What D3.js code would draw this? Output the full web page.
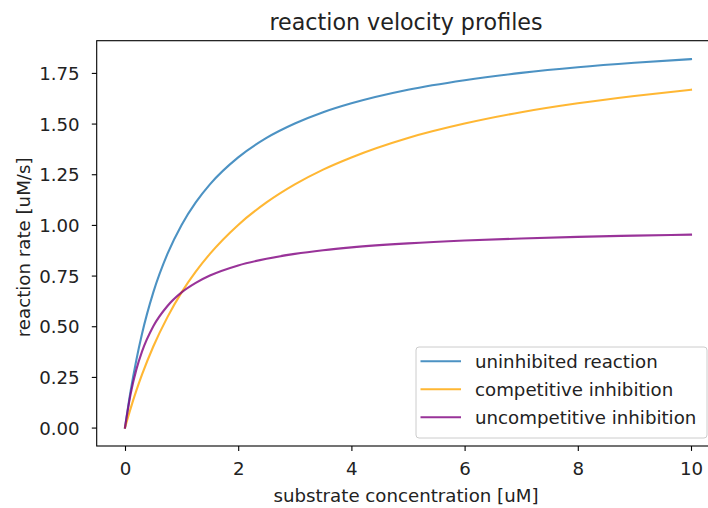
<!DOCTYPE html>
<html>
<head>
<meta charset="utf-8">
<script src="https://cdn.jsdelivr.net/npm/d3@7"></script>
<style>
  html, body { margin: 0; padding: 0; background: #fff; overflow: hidden; }
  svg { display: block; font-family: "DejaVu Sans", sans-serif; }
</style>
</head>
<body>
<svg id="chart" width="708" height="508"></svg>
<script>
// Substrate concentrations [uM] sampled along each velocity curve
const substrate = [0, 0.1, 0.2, 0.3, 0.5, 0.75, 1, 1.25, 1.5, 2, 2.5, 3, 3.5, 4, 5, 6, 7, 8, 9, 10];

// Reaction rates [uM/s] for each case
const uninhibited   = [0, 0.182, 0.333, 0.462, 0.667, 0.857, 1.000, 1.111, 1.200, 1.333, 1.429, 1.500, 1.556, 1.600, 1.667, 1.714, 1.750, 1.778, 1.800, 1.818];
const competitive   = [0, 0.095, 0.182, 0.261, 0.400, 0.545, 0.667, 0.769, 0.857, 1.000, 1.111, 1.200, 1.273, 1.333, 1.429, 1.500, 1.556, 1.600, 1.636, 1.667];
const uncompetitive = [0, 0.167, 0.286, 0.375, 0.500, 0.600, 0.667, 0.714, 0.750, 0.800, 0.833, 0.857, 0.875, 0.889, 0.909, 0.923, 0.933, 0.941, 0.947, 0.952];

const seriesNames  = ["uninhibited reaction", "competitive inhibition", "uncompetitive inhibition"];
const seriesColors = ["#1f77b4", "orange", "purple"];
const xTicks = [0, 2, 4, 6, 8, 10];
const yTicks = [0, 0.25, 0.5, 0.75, 1.0, 1.25, 1.5, 1.75];

const svg = d3.select("#chart");
const plot = { left: 96.7, right: 719.3, top: 40.7, bottom: 446 };
const baseFont = 18.2, titleFont = 22.2;

const allY = uninhibited.concat(competitive, uncompetitive);
const yMin = d3.min(allY), yMax = d3.max(allY);
const yPad = (yMax - yMin) * 0.05;
const xMin = d3.min(substrate), xMax = d3.max(substrate);
const xPad = (xMax - xMin) * 0.05;

const x = d3.scaleLinear().domain([xMin - xPad, xMax + xPad]).range([plot.left, plot.right]);
const y = d3.scaleLinear().domain([yMin - yPad, yMax + yPad]).range([plot.bottom, plot.top]);

const series = [uninhibited, competitive, uncompetitive].map((vals, i) => ({
  name: seriesNames[i],
  color: seriesColors[i],
  points: substrate.map((s, j) => [s, vals[j]])
}));

const line = d3.line()
  .x(d => x(d[0]))
  .y(d => y(d[1]))
  .curve(d3.curveMonotoneX);

// Curves
svg.append("g")
  .selectAll("path")
  .data(series)
  .join("path")
  .attr("d", d => line(d.points))
  .attr("fill", "none")
  .attr("stroke", d => d.color)
  .attr("stroke-opacity", 0.8)
  .attr("stroke-width", 2.1)
  .attr("stroke-linecap", "square");

// Axes
const xAxis = d3.axisBottom(x).tickValues(xTicks).tickFormat(d3.format("d")).tickSize(4.9);
const yAxis = d3.axisLeft(y).tickValues(yTicks).tickFormat(d3.format(".2f")).tickSize(4.9);

const gx = svg.append("g").attr("transform", `translate(0,${plot.bottom})`).call(xAxis);
const gy = svg.append("g").attr("transform", `translate(${plot.left},0)`).call(yAxis);
[gx, gy].forEach(g => {
  g.select(".domain").remove();
  g.selectAll(".tick line").attr("stroke", "#000").attr("stroke-width", 1.1);
  g.selectAll(".tick text").attr("fill", "#222").attr("font-size", baseFont)
    .attr("font-family", "DejaVu Sans, sans-serif");
});
gx.selectAll(".tick text").attr("y", 28.5).attr("dy", null);
gy.selectAll(".tick text").attr("x", -17).attr("dy", "0.36em");

// Frame
svg.append("rect")
  .attr("x", plot.left).attr("y", plot.top)
  .attr("width", plot.right - plot.left).attr("height", plot.bottom - plot.top)
  .attr("fill", "none").attr("stroke", "#000").attr("stroke-width", 1.1);

// Title and axis labels
const midX = (plot.left + plot.right) / 2;
svg.append("text").attr("x", midX - 2).attr("y", 30).attr("text-anchor", "middle")
  .attr("font-size", titleFont).attr("fill", "#222").text("reaction velocity profiles");
svg.append("text").attr("x", midX - 2).attr("y", 502).attr("text-anchor", "middle")
  .attr("font-size", baseFont).attr("fill", "#222").text("substrate concentration [uM]");
svg.append("text")
  .attr("transform", `translate(30,${(plot.top + plot.bottom) / 2 + 4}) rotate(-90)`)
  .attr("text-anchor", "middle").attr("font-size", baseFont).attr("fill", "#222")
  .text("reaction rate [uM/s]");

// Legend
const legend = svg.append("g").attr("transform", "translate(416,347)");
legend.append("rect")
  .attr("width", 291).attr("height", 91).attr("rx", 3)
  .attr("fill", "#fff").attr("fill-opacity", 0.8)
  .attr("stroke", "#ccc").attr("stroke-width", 1);
const rows = legend.selectAll("g.row").data(series).join("g")
  .attr("class", "row")
  .attr("transform", (d, i) => `translate(0,${14.3 + i * 28})`);
rows.append("line")
  .attr("x1", 4.5).attr("x2", 45)
  .attr("stroke", d => d.color).attr("stroke-opacity", 0.8).attr("stroke-width", 2.1);
rows.append("text")
  .attr("x", 59).attr("dy", "0.35em")
  .attr("font-size", baseFont).attr("fill", "#222")
  .text(d => d.name);
</script>
</body>
</html>
